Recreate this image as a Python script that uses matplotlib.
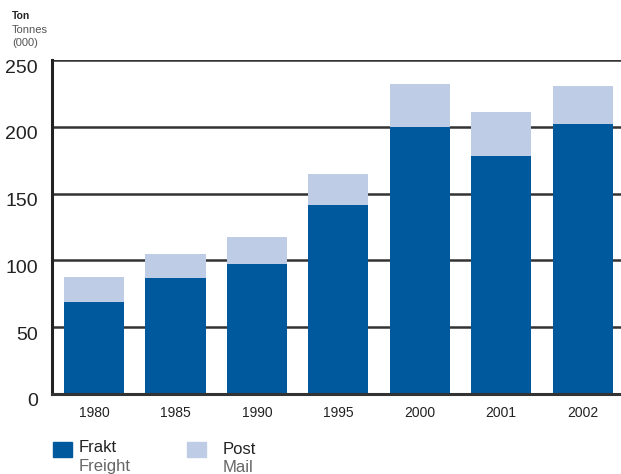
import matplotlib
matplotlib.use("Agg")
import matplotlib.pyplot as plt
import matplotlib.transforms as mtrans
import numpy as np

plt.rcParams['font.family'] = ['Liberation Sans', 'DejaVu Sans']

years = ['1980', '1985', '1990', '1995', '2000', '2001', '2002']
freight = [69, 87, 97, 141.5, 200, 178, 202]
mail = [18.5, 18, 20.5, 23.5, 32, 33, 28.5]
yticks = [0, 50, 100, 150, 200, 250]

c_freight = '#00599C'
c_mail = '#BECCE5'

fig = plt.figure(figsize=(6.21, 4.74), dpi=100)
ax = fig.add_axes([0.0837, 0.1688, 0.9163, 0.7046])

x = np.arange(len(years))
ax.bar(x, freight, width=0.74, color=c_freight, zorder=3)
ax.bar(x, mail, width=0.74, bottom=freight, color=c_mail, zorder=3)

ax.set_xlim(-0.515, 6.47)
ax.set_ylim(0, 250)
ax.set_yticks(yticks)
ax.set_yticklabels([str(v) for v in yticks], fontsize=14, color='#222222')
ax.set_xticks(x)
ax.set_xticklabels(years, fontsize=10, color='#222222')
ax.tick_params(axis='both', length=0)
ax.tick_params(axis='y', pad=10)
ax.tick_params(axis='x', pad=9)

# numbers on the y axis sit a bit below their lines
shift = mtrans.ScaledTranslation(0, -6 / 100, fig.dpi_scale_trans)
for lab in ax.get_yticklabels():
    lab.set_transform(lab.get_transform() + shift)

for v in yticks[1:]:
    ax.axhline(v, color='#333333', lw=1.8, zorder=1)

for s in ['right', 'top']:
    ax.spines[s].set_visible(False)
ax.spines['left'].set_color('#222222')
ax.spines['left'].set_linewidth(2.2)
ax.spines['bottom'].set_color('#333333')
ax.spines['bottom'].set_linewidth(2.2)
ax.spines['bottom'].set_zorder(4)

fig.text(12 / 621, 1 - 16 / 474, 'Ton', fontsize=7.5, fontweight='bold', color='#222222', va='center')
fig.text(12 / 621, 1 - 30 / 474, 'Tonnes', fontsize=8, color='#555555', va='center')
fig.text(12 / 621, 1 - 43 / 474, '(000)', fontsize=8, color='#555555', va='center')

# legend
for x0, tx, c, t1, t2, y1 in [(53, 79, c_freight, 'Frakt', 'Freight', 448),
                              (187, 223, c_mail, 'Post', 'Mail', 450)]:
    fig.patches.append(plt.Rectangle((x0 / 621, 1 - 457 / 474), 19 / 621, 15 / 474,
                                     transform=fig.transFigure, color=c))
    fig.text(tx / 621, 1 - y1 / 474, t1, fontsize=12, color='#222222', va='center')
    fig.text(tx / 621, 1 - (y1 + 18) / 474, t2, fontsize=12, color='#666666', va='center')

fig.savefig('out.png', dpi=100)
